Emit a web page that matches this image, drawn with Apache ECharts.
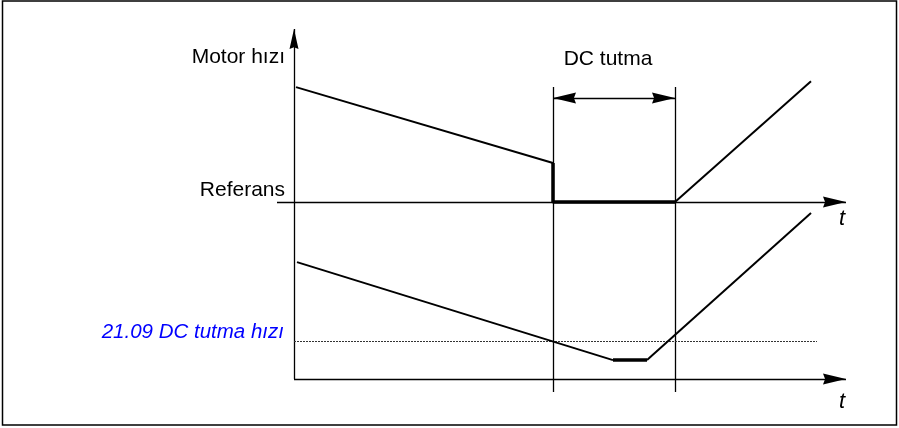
<!DOCTYPE html>
<html>
<head>
<meta charset="utf-8">
<script src="https://cdn.jsdelivr.net/npm/echarts@6/dist/echarts.min.js"></script>
<style>
    html, body { margin: 0; padding: 0; background: #fff; }
    #chart { width: 899px; height: 428px; }
</style>
</head>
<body>
<div id="chart"></div>
<script>
// time in arbitrary units, speed in arbitrary units (0 = lower t axis)
const refLevel = 50.6;
const holdSpeed = 10.9;
const dcStart = 5.18;
const dcEnd = 7.62;

// upper panel: motor speed vs reference
const upperDecelT = [0.04, 5.18];
const upperDecelV = [83.4, 61.7];
const upperHoldT = [5.18, 5.18, 7.62];
const upperHoldV = [61.7, 50.6, 50.6];
const upperRampT = [7.62, 10.34];
const upperRampV = [50.6, 85.1];

// lower panel: speed against DC hold speed
const lowerDecelT = [0.06, 6.38];
const lowerDecelV = [33.4, 5.4];
const lowerHoldT = [6.38, 7.06];
const lowerHoldV = [5.4, 5.4];
const lowerRampT = [7.06, 10.34];
const lowerRampV = [5.4, 47.4];

const labels = {
    speed: 'Motor hızı',
    ref: 'Referans',
    dc: 'DC tutma',
    holdSpeed: '21.09 DC tutma hızı',
    t: 't'
};

function pts(ts, vs) {
    return ts.map(function (t, i) { return [t, vs[i]]; });
}

const element = document.getElementById('chart');
const chart = echarts.init(element, null, {renderer: 'canvas'});

const font = '"Liberation Sans", Arial, sans-serif';
// filled arrow head with a shallow notch, pointing up; the leading moveTo
// makes the box symmetric round the tip so the tip sits on the line end
const ARROW = 'path://M5,-22 M5,0 L10,22 L5,20 L0,22 Z';

function curve(ts, vs, width) {
    return {
        type: 'line',
        data: pts(ts, vs),
        showSymbol: false,
        clip: false,
        silent: true,
        lineStyle: {color: '#000', width: width},
        itemStyle: {color: '#000'}
    };
}

// symbolSize for lines is [fromSize, toSize], each [width, 2 * length]
function arrowLine(from, to, symbols, width, size, dash) {
    return {
        type: 'lines',
        coordinateSystem: 'cartesian2d',
        clip: false,
        silent: true,
        symbol: symbols,
        symbolSize: [size, size],
        lineStyle: {color: dash ? '#333' : '#000', width: width, type: dash || 'solid', opacity: 1},
        data: [{coords: [from, to]}]
    };
}

function label(text, x, y, size, opts) {
    opts = opts || {};
    return {
        type: 'text', x: x, y: y,
        style: {
            text: text,
            font: (opts.italic ? 'italic ' : '') + size + 'px ' + font,
            fill: opts.color || '#000',
            align: opts.align || 'right',
            verticalAlign: 'middle'
        }
    };
}

let option = {
    animation: false,
    backgroundColor: '#fff',
    grid: {left: 277, right: 53, top: 29, bottom: 35},
    xAxis: {type: 'value', min: -0.34, max: 11.04, show: false},
    yAxis: {type: 'value', min: -4, max: 100, show: false},
    graphic: [
        {type: 'rect', shape: {x: 2.5, y: 1, width: 894, height: 424}, style: {fill: 'none', stroke: '#000', lineWidth: 1.5}},
        label(labels.speed, 285, 57.5, 21),
        label(labels.ref, 285, 190, 21),
        label(labels.dc, 608, 59.5, 21, {align: 'center'}),
        label(labels.holdSpeed, 284, 332, 20.5, {italic: true, color: '#0000ff'}),
        label(labels.t, 842, 219, 22, {italic: true, align: 'center'}),
        label(labels.t, 842, 402, 22, {italic: true, align: 'center'})
    ],
    series: [
        // axes
        arrowLine([0, 0], [0, 100], ['none', ARROW], 1.3, [9, 40]),
        arrowLine([-0.34, refLevel], [11.04, refLevel], ['none', ARROW], 1.3, [11, 46]),
        arrowLine([0, 0], [11.04, 0], ['none', ARROW], 1.3, [11, 46]),
        // DC hold window
        arrowLine([dcStart, 83.4], [dcStart, -3.7], ['none', 'none'], 1.3, 1),
        arrowLine([dcEnd, 83.4], [dcEnd, -3.7], ['none', 'none'], 1.3, 1),
        arrowLine([dcStart, 80.3], [dcEnd, 80.3], [ARROW, ARROW], 1.3, [11, 46]),
        // hold speed level
        arrowLine([0, holdSpeed], [10.46, holdSpeed], ['none', 'none'], 1, 1, [2, 1]),
        curve(upperDecelT, upperDecelV, 2),
        curve(upperHoldT, upperHoldV, 3.5),
        curve(upperRampT, upperRampV, 2),
        curve(lowerDecelT, lowerDecelV, 2),
        curve(lowerHoldT, lowerHoldV, 3.5),
        curve(lowerRampT, lowerRampV, 2)
    ]
};

chart.setOption(option);
</script>
</body>
</html>
